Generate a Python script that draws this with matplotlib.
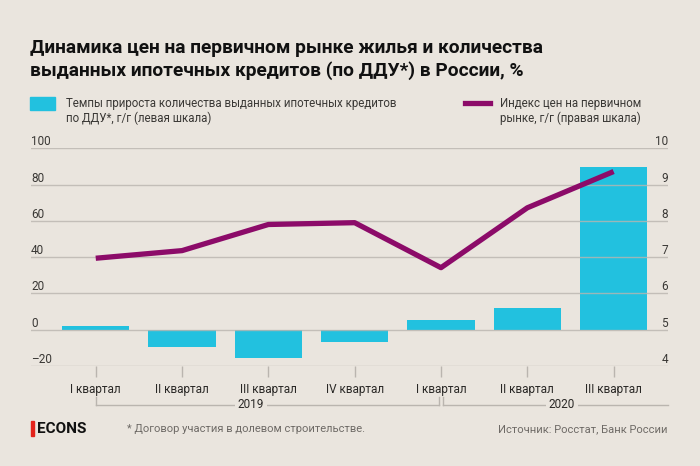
import numpy as np
import matplotlib.pyplot as plt
from matplotlib.patches import Rectangle
from matplotlib.lines import Line2D

# данные
kvartaly = ["I квартал", "II квартал", "III квартал", "IV квартал",
            "I квартал", "II квартал", "III квартал"]
kredity = [1.8, -9.7, -15.4, -6.6, 5.3, 11.8, 89.5]      # левая шкала
indeks_cen = [6.97, 7.18, 7.90, 7.95, 6.71, 8.36, 9.36]   # правая шкала
levye_metki = [-20, 0, 20, 40, 60, 80, 100]
pravye_metki = [4, 5, 6, 7, 8, 9, 10]
gody = ["2019", "2020"]

FON = "#EAE5DE"
GOLUBOY = "#22C1DF"
PURPUR = "#8C0B69"
SERIY = "#6E6A66"
SETKA = "#BAB5AF"

W, H = 700, 466


def fx(px):
    return px / W


def fy(py):
    return 1 - py / H


plt.rcParams['font.family'] = ['Roboto', 'DejaVu Sans']

fig = plt.figure(figsize=(7, 4.66), dpi=100, facecolor=FON)
ax = fig.add_axes([fx(31), fy(366), fx(668) - fx(31), fy(148.3) - fy(366)])
ax.set_facecolor(FON)
ax2 = ax.twinx()

x = np.arange(len(kvartaly))
ax.bar(x, kredity, width=0.78, color=GOLUBOY, zorder=2)
ax.set_xlim(-0.75, 6.63)
ax.set_ylim(-20, 100)
ax2.set_ylim(4, 10)
ax2.plot(x, indeks_cen, color=PURPUR, lw=3.8, solid_capstyle='butt', zorder=3)

# сетка поверх столбцов
for v in levye_metki:
    ax.axhline(v, color=SETKA, lw=1, alpha=0.8, zorder=2.5)

for a in (ax, ax2):
    for s in a.spines.values():
        s.set_visible(False)
    a.set_yticks([])

# подписи шкал над линиями сетки
for v in levye_metki:
    lab = "–20" if v < 0 else str(v)
    ax.text(0, v, lab, transform=ax.get_yaxis_transform(), ha='left',
            va='bottom', fontsize=8.5, color="#3a3835")
for v in pravye_metki:
    ax2.text(1, v, str(v), transform=ax2.get_yaxis_transform(), ha='right',
             va='bottom', fontsize=8.5, color="#3a3835")

ax.set_xticks(x)
ax.set_xticklabels(kvartaly, fontsize=8.5, color="#2a2826")
ax.tick_params(axis='x', length=8, color=SETKA, width=1, pad=4)

# скобки годов
tr = ax.get_xaxis_transform()
yl = -0.179
yt = -0.142
ax.plot([0, 0], [yt, yl], color=SETKA, lw=1, transform=tr, clip_on=False)
ax.plot([0, 3.98], [yl, yl], color=SETKA, lw=1, transform=tr, clip_on=False)
ax.plot([3.98, 3.98], [yt, yl], color=SETKA, lw=1, transform=tr, clip_on=False)
ax.plot([4.02, 4.02], [yt, yl], color=SETKA, lw=1, transform=tr, clip_on=False)
ax.plot([4.02, 6.63], [yl, yl], color=SETKA, lw=1, transform=tr, clip_on=False)
for gx, g in zip([1.8, 5.4], gody):
    ax.text(gx, yl, g, transform=tr, ha='center', va='center', fontsize=8.5,
            color="#2a2826",
            bbox=dict(boxstyle='square,pad=0.25', fc=FON, ec='none'))

# заголовок
fig.text(fx(30), fy(48), "Динамика цен на первичном рынке жилья и количества",
         fontsize=13.8, fontweight='bold', va='center', color="#111")
fig.text(fx(30), fy(71), "выданных ипотечных кредитов (по ДДУ*) в России, %",
         fontsize=13.8, fontweight='bold', va='center', color="#111")

# легенда
fig.patches.append(Rectangle((fx(30), fy(110)), fx(25), fy(97) - fy(110),
                             transform=fig.transFigure, color=GOLUBOY))
fig.text(fx(66), fy(103), "Темпы прироста количества выданных ипотечных кредитов",
         fontsize=8.3, va='center', color="#3a3835")
fig.text(fx(66), fy(118), "по ДДУ*, г/г (левая шкала)",
         fontsize=8.3, va='center', color="#3a3835")
fig.lines.append(Line2D([fx(465), fx(490)], [fy(103), fy(103)],
                        transform=fig.transFigure, color=PURPUR, lw=3.8))
fig.text(fx(500), fy(103), "Индекс цен на первичном",
         fontsize=8.3, va='center', color="#3a3835")
fig.text(fx(500), fy(118), "рынке, г/г (правая шкала)",
         fontsize=8.3, va='center', color="#3a3835")

# подвал
fig.patches.append(Rectangle((fx(31), fy(436)), fx(2.5), fy(421) - fy(436),
                             transform=fig.transFigure, color="#E3231B"))
fig.text(fx(37), fy(429), "ECONS", fontsize=11, fontweight='bold',
         va='center', color="#111")
fig.text(fx(127), fy(429), "* Договор участия в долевом строительстве.",
         fontsize=8, va='center', color=SERIY)
fig.text(fx(668), fy(429), "Источник: Росстат, Банк России",
         fontsize=8, va='center', ha='right', color=SERIY)

fig.savefig("out.png", dpi=100, facecolor=FON)
